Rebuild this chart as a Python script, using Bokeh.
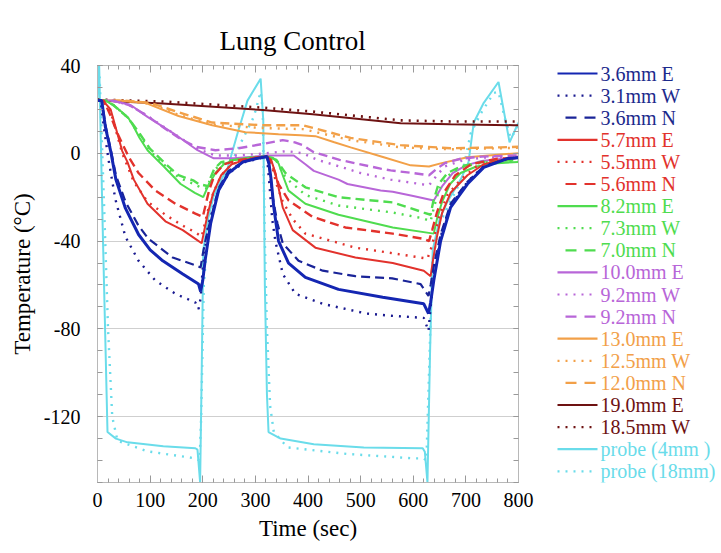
import numpy as np
from bokeh.plotting import figure
from bokeh.models import (Range1d, LinearAxis, SingleIntervalTicker, ColumnDataSource,
                          LabelSet, PrintfTickFormatter)
from bokeh.layouts import row
from bokeh.embed import file_html
from bokeh.resources import INLINE

# ---------------- data (time in sec, temperature in degC) ----------------
t_36E = [0, 8, 15, 25, 35, 53, 78, 100, 124, 162, 192, 196, 200, 205, 215, 230, 249, 276, 300, 322,
         326, 330, 335, 344, 363, 395, 458, 542, 620, 629, 633, 639, 652, 671, 703, 734, 779, 800]
T_36E = [24, 24, 12, 1, -12, -25, -37, -44, -49, -55, -59.6, -63, -58, -48, -32, -17, -9, -4, -2.5, -1.5,
         -5, -12, -24.6, -40, -50, -56.5, -62, -65.6, -68.6, -73, -68, -58, -40, -24.6, -14, -6.4, -2.4, -2]

t_31W = [0, 6, 12, 21, 34, 53, 78, 110, 148, 186, 192, 196, 200, 210, 230, 250, 280, 322,
         327, 332, 338, 352, 376, 428, 510, 557, 620, 629, 633, 640, 652, 671, 703, 734, 779, 800]
T_31W = [24, 24, 12, -3, -21, -38, -49, -58, -64, -68, -71, -66, -52, -33, -17, -9, -4, -1.5,
         -15, -30, -40, -55, -64, -68.6, -73, -74, -75, -81, -70, -55, -38, -24, -13, -6, -2.4, -2]

t_36N = [0, 8, 15, 25, 35, 53, 78, 97, 143, 186, 196, 200, 205, 215, 230, 249, 276, 300, 322,
         327, 333, 342, 352, 382, 428, 490, 560, 614, 629, 633, 640, 652, 671, 703, 734, 779, 800]
T_36N = [24, 24, 13, 2, -10, -22, -33, -39, -47.5, -51, -52, -46, -40, -30, -16, -8, -4, -2.5, -1.5,
         -8, -20, -32, -41, -49, -53.5, -56, -57, -59.6, -65, -60, -50, -37, -23, -13, -6, -2.4, -2]

t_57E = [0, 10, 25, 47, 57, 69, 95, 129, 162, 186, 198, 203, 210, 220, 235, 255, 280, 300, 322,
         330, 338, 352, 371, 414, 490, 561, 620, 633, 638, 645, 655, 671, 703, 734, 779, 800]
T_57E = [24, 24, 20, 1, -4, -12, -23, -31, -35, -39, -41, -35, -27, -18, -10, -5, -3, -2, -1.5,
         -3, -9, -24.6, -35, -43, -47.5, -50, -53.5, -56, -48, -38, -27, -18, -10, -5, -2.5, -2]

t_55W = [0, 10, 25, 47, 69, 95, 129, 162, 186, 198, 203, 210, 220, 235, 255, 280, 300, 322,
         330, 340, 352, 371, 395, 490, 560, 627, 633, 640, 650, 665, 690, 720, 779, 800]
T_55W = [24, 24, 19, 0, -13, -22, -28, -33, -36, -38, -33, -26, -18, -10, -5, -3, -2, -1.5,
         -4, -14, -22, -30, -36.6, -43, -45.5, -48, -44, -38, -28, -19, -12, -6, -2.5, -2]

t_56N = [0, 12, 25, 38, 60, 78, 110, 148, 186, 200, 205, 212, 222, 240, 270, 300, 322,
         332, 344, 363, 409, 471, 561, 620, 630, 636, 645, 658, 680, 710, 760, 800]
T_56N = [24, 24, 17, 9, -2, -9, -17, -23, -27.5, -29, -24, -17, -10, -5, -3, -2, -1.5,
         -5, -14, -21.5, -29, -33.8, -36.6, -39, -40, -35, -27, -18, -10, -5, -2.5, -2]

t_82E = [0, 15, 30, 45, 59, 69, 80, 95, 126, 158, 185, 201, 210, 224, 240, 260, 290, 322,
         333, 344, 352, 363, 395, 458, 561, 639, 645, 655, 670, 690, 720, 760, 800]
T_82E = [24, 24, 22, 19, 16, 12, 7, 1.4, -6, -14, -18, -20, -15, -9, -5, -3, -2, -1.5,
         -2, -4.6, -10, -17, -23, -28, -33.8, -36.6, -30, -22, -14, -9, -6, -4.5, -4]

t_73W = [0, 15, 30, 59, 80, 100, 130, 154, 183, 200, 208, 215, 225, 240, 270, 322,
         340, 357, 395, 458, 561, 620, 633, 640, 650, 667, 690, 730, 800]
T_73W = [24, 24, 22, 16, 8, 1, -6, -11, -14, -16, -16, -11, -7, -4, -2.5, -1.5,
         -3.5, -11, -19, -23.8, -27, -29.7, -31, -24, -16, -10, -6.5, -4.2, -3.5]

t_70N = [0, 15, 30, 59, 80, 100, 130, 154, 183, 192, 211, 215, 222, 235, 260, 290, 322,
         340, 357, 395, 458, 561, 620, 633, 638, 648, 665, 690, 730, 800]
T_70N = [24, 24, 22, 16, 9, 2, -5, -10, -12.5, -14, -15, -11, -7, -4, -3, -2, -1.5,
         -3, -9, -15.5, -20, -22.4, -27, -28, -22, -14, -9, -6, -4, -3]

t_100E = [0, 25, 45, 63, 95, 145, 190, 221, 259, 323, 373, 395, 411, 458, 475, 538, 561, 600, 639,
          655, 675, 700, 730, 770, 800]
T_100E = [24, 24, 23, 22, 16.6, 9, 1.4, -2.3, -2.3, -1, -1, -5, -8, -12, -14, -17, -17.5, -19.5, -21.5,
          -15, -9, -5.5, -3.5, -2.5, -2]

t_92W = [0, 28, 60, 95, 145, 190, 224, 268, 320, 360, 390, 418, 460, 500, 557, 600, 630,
         645, 660, 690, 730, 800]
T_92W = [24, 24, 22, 17, 9, 2, -1, -1, 0, 1, 0, -3, -6, -9, -12, -13.5, -14.6,
         -10, -6, -3.5, -2, -1.5]

t_92N = [0, 30, 60, 95, 124, 155, 186, 224, 268, 320, 352, 375, 390, 411, 460, 538, 557, 600, 630,
         645, 660, 690, 730, 800]
T_92N = [24, 24, 22, 17, 12, 7, 3, 1.4, 2.3, 4.5, 6, 5, 3.7, 0.5, -3, -7, -7.8, -9, -10,
         -7, -4.5, -2.5, -1.5, -1]

t_130E = [0, 40, 91, 154, 218, 281, 344, 386, 414, 450, 481, 544, 595, 630, 652, 703, 766, 800]
T_130E = [24, 24, 23, 17, 12.8, 9.6, 8.7, 8.2, 7.8, 5, 2.7, -1.8, -5.5, -6, -4.6, -1.8, -0.5, 0]

t_125W = [0, 50, 100, 154, 218, 314, 390, 481, 576, 671, 766, 800]
T_125W = [24, 24, 22.5, 17.5, 13, 11.5, 11, 6, 2.7, 1.8, 2.3, 2.5]

t_120N = [0, 50, 100, 154, 218, 314, 390, 481, 576, 671, 766, 800]
T_120N = [24, 24, 23, 18.7, 14, 12.8, 12.8, 7, 3.7, 2.3, 2.7, 3]

t_190E = [0, 124, 314, 409, 576, 671, 791, 800]
T_190E = [24, 22.7, 19.7, 17.8, 13.7, 13.2, 12.8, 12.8]

t_185W = [0, 124, 314, 409, 576, 671, 800]
T_185W = [24.5, 23.6, 20.8, 19.0, 15.0, 14.5, 14.5]

t_p4 = [0, 3, 10, 19, 35, 57, 125, 186, 190, 195, 198, 201, 210, 220, 235, 247, 266, 285, 310,
        315, 318, 322, 325, 348, 411, 506, 618, 622, 627, 632, 637, 650, 665, 690, 705, 715, 734,
        762, 783, 798, 800]
T_p4 = [24, 42, -35, -127, -130, -131.7, -133.5, -134.4, -135, -150, -100, -44, -30, -20, -12, -7, 9,
        24, 34, 15, -60, -110, -127, -130, -132.6, -134, -134.4, -136, -150, -90, -44, -30, -22, -12,
        -4, 14, 23, 32.5, 5, 13, 14]

t_p18 = [0, 4, 12, 20, 28, 38, 95, 186, 194, 197, 202, 210, 222, 240, 255, 272, 297, 310,
         314, 318, 322, 328, 335, 361, 475, 601, 620, 625, 630, 636, 650, 670, 690, 709, 728,
         753, 762, 775, 785, 800]
T_p18 = [24, 35, -20, -80, -120, -131, -135.8, -139, -140, -120, -60, -35, -22, -12, -4, 4.6, 16.6, 28,
         20, -40, -80, -115, -127, -134, -137, -139, -139, -140, -100, -50, -32, -22, -13, 9, 18,
         27.5, 28, 15, 7, 12]

labels = ["3.6mm E", "3.1mm W", "3.6mm N", "5.7mm E", "5.5mm W", "5.6mm N",
          "8.2mm E", "7.3mm W", "7.0mm N", "10.0mm E", "9.2mm W", "9.2mm N",
          "13.0mm E", "12.5mm W", "12.0mm N", "19.0mm E", "18.5mm W",
          "probe (4mm )", "probe (18mm)"]
times = [t_36E, t_31W, t_36N, t_57E, t_55W, t_56N, t_82E, t_73W, t_70N,
         t_100E, t_92W, t_92N, t_130E, t_125W, t_120N, t_190E, t_185W, t_p4, t_p18]
temps = [T_36E, T_31W, T_36N, T_57E, T_55W, T_56N, T_82E, T_73W, T_70N,
         T_100E, T_92W, T_92N, T_130E, T_125W, T_120N, T_190E, T_185W, T_p4, T_p18]

# ---------------- styles ----------------
BLUE, RED, GREEN, PURPLE = "#1426b2", "#e2322c", "#4fdc4f", "#b866d8"
ORANGE, MAROON, CYAN = "#f2a048", "#6e1212", "#6adcea"
line_colors = [BLUE, "#1a1a90", "#1a2498", RED, RED, RED, GREEN, GREEN, GREEN,
               PURPLE, PURPLE, PURPLE, ORANGE, ORANGE, ORANGE, MAROON, MAROON, CYAN, CYAN]
text_colors = ["#1c2a8c", "#1c2a8c", "#1c2a8c", RED, RED, RED, GREEN, GREEN, GREEN,
               PURPLE, PURPLE, PURPLE, ORANGE, ORANGE, ORANGE, MAROON, MAROON, CYAN, CYAN]
SOLID, DOT, DASH = "solid", "2 6", "9 5"
dashes = [SOLID, DOT, DASH, SOLID, DOT, DASH, SOLID, DOT, DASH, SOLID, DOT, DASH,
          SOLID, DOT, DASH, SOLID, DOT, SOLID, DOT]
widths = [3, 2.4, 2.2, 2, 2.4, 2.4, 2, 2.4, 2.4, 2, 2.4, 2.4, 2, 2.4, 2.4, 2, 2.6, 2, 2.4]

FONT = "Liberation Serif"

# frame: x 97..518, y 65..482 (page pixels)
FL, FR, FT, FB = 97, 518, 65, 482
W, H = 543, 545
p = figure(width=W, height=H, x_range=Range1d(0, 800), y_range=Range1d(-150, 40),
           output_backend="svg", toolbar_location=None,
           min_border_left=FL, min_border_right=W - FR, min_border_top=FT, min_border_bottom=H - FB)

order = [18, 17, 16, 15, 14, 13, 12, 11, 10, 9, 8, 7, 6, 5, 4, 3, 2, 1, 0]
for i in order:
    p.line(times[i], temps[i], line_color=line_colors[i], line_dash=dashes[i],
           line_width=widths[i])

xt = SingleIntervalTicker(interval=100, num_minor_ticks=5)
yt = SingleIntervalTicker(interval=40, num_minor_ticks=4)
p.xaxis.ticker = xt
p.yaxis.ticker = yt
p.xaxis.formatter = PrintfTickFormatter(format="%d")
p.yaxis.formatter = PrintfTickFormatter(format="%d")
p.xgrid.visible = False
p.ygrid.ticker = yt
p.ygrid.grid_line_color = "#cfcfcf"
p.ygrid.grid_line_width = 1
p.outline_line_color = "#b8b8b8"

for ax in (p.xaxis[0], p.yaxis[0]):
    ax.axis_line_color = "#b8b8b8"
    ax.major_tick_line_color = "#999999"
    ax.minor_tick_line_color = "#999999"
    ax.major_tick_in = 7
    ax.major_tick_out = 0
    ax.minor_tick_in = 4
    ax.minor_tick_out = 0
    ax.major_label_text_font = FONT
    ax.major_label_text_font_size = "20px"
    ax.major_label_text_color = "black"
    ax.axis_label_text_font = FONT
    ax.axis_label_text_font_style = "normal"
    ax.axis_label_text_color = "black"

p.xaxis.axis_label = "Time (sec)"
p.xaxis.axis_label_text_font_size = "23px"
p.xaxis.major_label_standoff = 10
p.xaxis.axis_label_standoff = 6
p.yaxis.axis_label = "Temperature (°C)"
p.yaxis.axis_label_text_font_size = "23px"
p.yaxis.major_label_standoff = 17
p.yaxis.axis_label_standoff = 6
p.yaxis.major_tick_in = 5
p.yaxis.minor_tick_in = 5

top = LinearAxis(ticker=xt, major_label_text_font_size="1px", major_label_text_color=None,
                 major_label_standoff=0, major_tick_in=7, major_tick_out=0,
                 minor_tick_in=4, minor_tick_out=0, axis_line_color="#b8b8b8",
                 major_tick_line_color="#999999", minor_tick_line_color="#999999")
right = LinearAxis(ticker=yt, major_label_text_font_size="1px", major_label_text_color=None,
                   major_label_standoff=0, major_tick_in=5, major_tick_out=0,
                   minor_tick_in=5, minor_tick_out=0, axis_line_color="#b8b8b8",
                   major_tick_line_color="#999999", minor_tick_line_color="#999999")
p.add_layout(top, "above")
p.add_layout(right, "right")

p.title.text = "Lung Control"
p.title.text_font = FONT
p.title.text_font_size = "27px"
p.title.text_font_style = "normal"
p.title.text_color = "black"
p.title.align = "left"
p.title.offset = 122
p.title.standoff = 20

# ---------------- legend panel (its frame lines up with the main frame: 65..482) ----------------
LW = 176
lg = figure(width=LW, height=H, x_range=Range1d(W, W + LW), y_range=Range1d(FB, FT),
            output_backend="svg", toolbar_location=None,
            min_border=0, outline_line_color=None)
lg.axis.visible = False
lg.grid.visible = False
n = len(labels)
y0, dy = 73, 22.1             # first entry centre (page y) and row pitch
ys = [y0 + k * dy for k in range(n)]
for k in range(n):
    if dashes[k] == DASH:
        dash, off = "11 8", 11
    else:
        dash, off = dashes[k], 0
    lg.line([W + 14, W + 54], [ys[k], ys[k]], line_color=line_colors[k], line_dash=dash,
            line_dash_offset=off, line_width=2.2)
src = ColumnDataSource(dict(x=[W + 57] * n, y=ys, text=labels, c=text_colors))
lg.add_layout(LabelSet(x="x", y="y", text="text", text_color="c", source=src,
                       text_font=FONT, text_font_size="20px", text_baseline="middle"))

open("out.html", "w").write(file_html(row(p, lg), INLINE))
